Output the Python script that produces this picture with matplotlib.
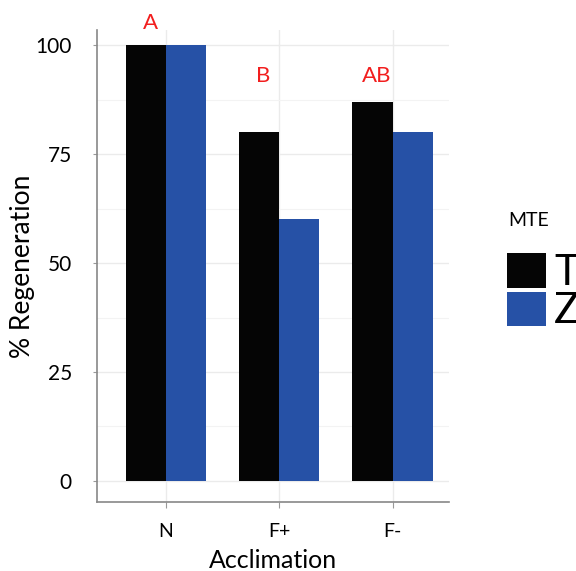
import numpy as np
import matplotlib.pyplot as plt
from matplotlib.patches import Patch

# data
acclimation = ['N', 'F+', 'F-']
mte_groups = ['T', 'Z']
regen_T = [100, 80, 87]
regen_Z = [100, 60, 80]
sig_letters = ['A', 'B', 'AB']
letter_y = [105, 93, 93]

plt.rcParams['font.family'] = ['Lato', 'DejaVu Sans']

colors = {'T': '#050505', 'Z': '#2651a6'}
width = 0.354

fig = plt.figure(figsize=(5.76, 5.71), dpi=100)
ax = fig.add_axes([0.168, 0.121, 0.612, 0.826])

x = np.arange(1, len(acclimation) + 1)
ax.bar(x - width / 2, regen_T, width, color=colors['T'], zorder=3)
ax.bar(x + width / 2, regen_Z, width, color=colors['Z'], zorder=3)

# significance letters
for xi, lab, ly in zip(x, sig_letters, letter_y):
    ax.text(xi - 0.14, ly, lab, color='#f21e1e', fontsize=16,
            ha='center', va='center', clip_on=False)

ax.set_xlim(0.39, 3.5)
ax.set_ylim(-4.8, 103.4)
ax.set_xticks(x)
ax.set_xticklabels(acclimation, fontsize=14)
ax.set_yticks([0, 25, 50, 75, 100])
ax.set_yticks([12.5, 37.5, 62.5, 87.5], minor=True)
ax.tick_params(axis='y', labelsize=15, length=3, color='#999999', pad=15)
ax.tick_params(axis='x', length=4, color='#999999', pad=11)
ax.tick_params(axis='y', which='minor', length=0)

ax.grid(True, which='major', color='#ebebeb', linewidth=1, zorder=0)
ax.grid(True, which='minor', axis='y', color='#f3f3f3', linewidth=0.8, zorder=0)
ax.set_axisbelow(True)

for s in ['top', 'right']:
    ax.spines[s].set_visible(False)
for s in ['left', 'bottom']:
    ax.spines[s].set_color('#888888')
    ax.spines[s].set_linewidth(1.2)

ax.set_ylabel('% Regeneration', fontsize=19)
ax.yaxis.set_label_coords(-0.176, 0.5)
ax.set_xlabel('Acclimation', fontsize=18, labelpad=7)

# legend
fig.text(508 / 576, 1 - 220 / 571, 'MTE', fontsize=14, ha='left', va='center')
handles = [Patch(facecolor=colors[g], edgecolor='none', label=g) for g in mte_groups]
fig.legend(handles=handles, fontsize=30,
           loc='upper left', bbox_to_anchor=(507 / 576, 1 - 253 / 571), frameon=False,
           handlelength=0.93, handleheight=0.9, labelspacing=0.0,
           handletextpad=0.2, borderpad=0, borderaxespad=0)

fig.savefig('out.png', dpi=100)
